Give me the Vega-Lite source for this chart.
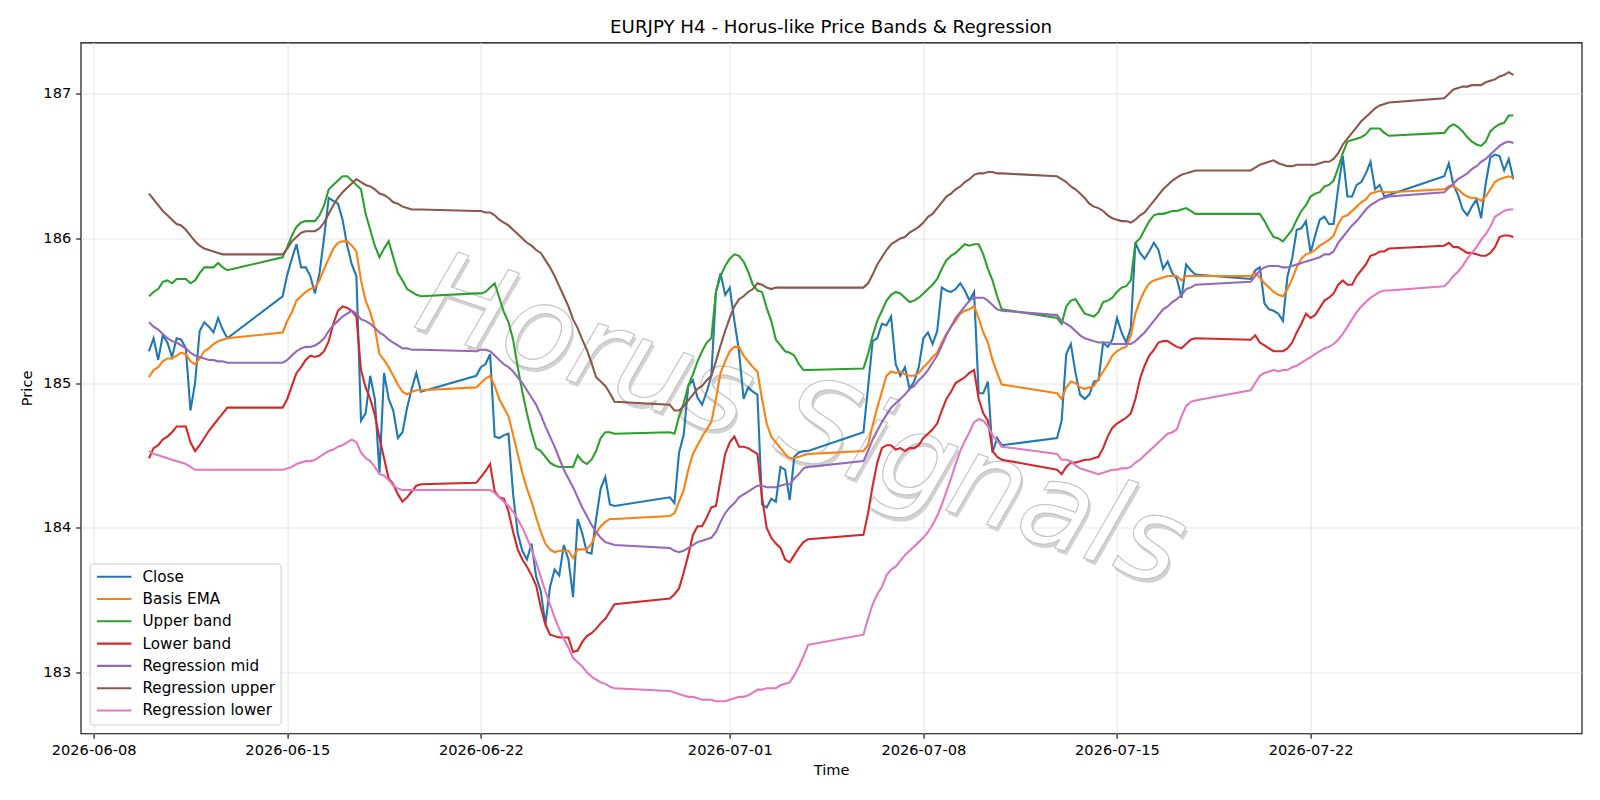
{
"$schema":"https://vega.github.io/schema/vega-lite/v6.json",
"width":1501,"height":690.8,
"autosize":{"type":"none"},
"padding":{"left":80.6,"top":42.5,"right":18.4,"bottom":66.7},
"background":"white",
"title":{"text":"EURJPY H4 - Horus-like Price Bands & Regression","font":"DejaVu Sans","fontSize":18.2,"fontWeight":"normal","color":"black","offset":5.8,"anchor":"middle"},
"config":{"view":{"stroke":"black","strokeWidth":1.1},"font":"DejaVu Sans"},
"data":{"values":[
{"t":"2026-06-10T00:00","c":185.22,"e":185.04,"u":185.60,"l":184.48,"m":185.42,"ru":186.31,"rl":184.53},
{"t":"2026-06-10T04:00","c":185.31,"e":185.09,"u":185.63,"l":184.55,"m":185.39,"ru":186.27,"rl":184.51},
{"t":"2026-06-10T08:00","c":185.16,"e":185.11,"u":185.65,"l":184.57,"m":185.37,"ru":186.23,"rl":184.50},
{"t":"2026-06-10T12:00","c":185.33,"e":185.15,"u":185.70,"l":184.61,"m":185.34,"ru":186.19,"rl":184.49},
{"t":"2026-06-10T16:00","c":185.28,"e":185.17,"u":185.71,"l":184.63,"m":185.31,"ru":186.16,"rl":184.48},
{"t":"2026-06-10T20:00","c":185.18,"e":185.17,"u":185.69,"l":184.66,"m":185.29,"ru":186.13,"rl":184.47},
{"t":"2026-06-11T00:00","c":185.31,"e":185.19,"u":185.72,"l":184.70,"m":185.28,"ru":186.10,"rl":184.46},
{"t":"2026-06-11T04:00","c":185.30,"e":185.21,"u":185.72,"l":184.70,"m":185.26,"ru":186.09,"rl":184.45},
{"t":"2026-06-11T08:00","c":185.24,"e":185.20,"u":185.72,"l":184.70,"m":185.24,"ru":186.06,"rl":184.44},
{"t":"2026-06-11T12:00","c":184.81,"e":185.15,"u":185.69,"l":184.59,"m":185.21,"ru":186.02,"rl":184.42},
{"t":"2026-06-11T16:00","c":185.00,"e":185.13,"u":185.71,"l":184.53,"m":185.19,"ru":185.98,"rl":184.40},
{"t":"2026-06-11T20:00","c":185.36,"e":185.17,"u":185.76,"l":184.57,"m":185.18,"ru":185.95,"rl":184.40},
{"t":"2026-06-12T00:00","c":185.42,"e":185.22,"u":185.80,"l":184.62,"m":185.17,"ru":185.93,"rl":184.40},
{"t":"2026-06-12T04:00","c":185.39,"e":185.24,"u":185.80,"l":184.67,"m":185.16,"ru":185.92,"rl":184.40},
{"t":"2026-06-12T08:00","c":185.35,"e":185.27,"u":185.80,"l":184.71,"m":185.16,"ru":185.91,"rl":184.40},
{"t":"2026-06-12T12:00","c":185.45,"e":185.29,"u":185.83,"l":184.75,"m":185.15,"ru":185.90,"rl":184.40},
{"t":"2026-06-12T16:00","c":185.37,"e":185.30,"u":185.80,"l":184.79,"m":185.15,"ru":185.89,"rl":184.40},
{"t":"2026-06-12T20:00","c":185.31,"e":185.31,"u":185.78,"l":184.83,"m":185.14,"ru":185.89,"rl":184.40},
{"t":"2026-06-14T20:00","c":185.60,"e":185.35,"u":185.87,"l":184.83,"m":185.14,"ru":185.89,"rl":184.40},
{"t":"2026-06-15T00:00","c":185.75,"e":185.43,"u":185.94,"l":184.89,"m":185.16,"ru":185.93,"rl":184.41},
{"t":"2026-06-15T04:00","c":185.86,"e":185.49,"u":186.02,"l":184.98,"m":185.19,"ru":185.98,"rl":184.42},
{"t":"2026-06-15T08:00","c":185.96,"e":185.57,"u":186.08,"l":185.07,"m":185.22,"ru":186.01,"rl":184.44},
{"t":"2026-06-15T12:00","c":185.80,"e":185.60,"u":186.11,"l":185.11,"m":185.24,"ru":186.04,"rl":184.45},
{"t":"2026-06-15T16:00","c":185.80,"e":185.63,"u":186.12,"l":185.16,"m":185.25,"ru":186.05,"rl":184.46},
{"t":"2026-06-15T20:00","c":185.74,"e":185.65,"u":186.12,"l":185.19,"m":185.25,"ru":186.05,"rl":184.46},
{"t":"2026-06-16T00:00","c":185.62,"e":185.66,"u":186.12,"l":185.18,"m":185.26,"ru":186.05,"rl":184.47},
{"t":"2026-06-16T04:00","c":185.76,"e":185.71,"u":186.16,"l":185.19,"m":185.28,"ru":186.07,"rl":184.49},
{"t":"2026-06-16T08:00","c":186.01,"e":185.79,"u":186.23,"l":185.22,"m":185.31,"ru":186.11,"rl":184.51},
{"t":"2026-06-16T12:00","c":186.28,"e":185.86,"u":186.34,"l":185.29,"m":185.36,"ru":186.17,"rl":184.53},
{"t":"2026-06-16T16:00","c":186.26,"e":185.93,"u":186.37,"l":185.41,"m":185.40,"ru":186.23,"rl":184.54},
{"t":"2026-06-16T20:00","c":186.24,"e":185.97,"u":186.40,"l":185.50,"m":185.43,"ru":186.28,"rl":184.56},
{"t":"2026-06-17T00:00","c":186.13,"e":185.98,"u":186.43,"l":185.53,"m":185.46,"ru":186.32,"rl":184.57},
{"t":"2026-06-17T04:00","c":185.95,"e":185.98,"u":186.43,"l":185.52,"m":185.48,"ru":186.35,"rl":184.59},
{"t":"2026-06-17T08:00","c":185.82,"e":185.95,"u":186.40,"l":185.50,"m":185.50,"ru":186.38,"rl":184.61},
{"t":"2026-06-17T12:00","c":185.74,"e":185.91,"u":186.37,"l":185.46,"m":185.48,"ru":186.41,"rl":184.59},
{"t":"2026-06-17T16:00","c":184.74,"e":185.71,"u":186.34,"l":185.09,"m":185.44,"ru":186.39,"rl":184.52},
{"t":"2026-06-17T20:00","c":184.79,"e":185.57,"u":186.17,"l":184.97,"m":185.43,"ru":186.37,"rl":184.48},
{"t":"2026-06-18T00:00","c":185.05,"e":185.49,"u":186.06,"l":184.89,"m":185.41,"ru":186.36,"rl":184.46},
{"t":"2026-06-18T04:00","c":184.89,"e":185.38,"u":185.95,"l":184.78,"m":185.38,"ru":186.34,"rl":184.42},
{"t":"2026-06-18T08:00","c":184.38,"e":185.20,"u":185.87,"l":184.62,"m":185.35,"ru":186.31,"rl":184.37},
{"t":"2026-06-18T12:00","c":185.07,"e":185.16,"u":185.93,"l":184.48,"m":185.33,"ru":186.30,"rl":184.36},
{"t":"2026-06-18T16:00","c":184.89,"e":185.11,"u":185.98,"l":184.34,"m":185.30,"ru":186.28,"rl":184.33},
{"t":"2026-06-18T20:00","c":184.81,"e":185.05,"u":185.87,"l":184.30,"m":185.28,"ru":186.25,"rl":184.29},
{"t":"2026-06-19T00:00","c":184.62,"e":184.99,"u":185.76,"l":184.23,"m":185.26,"ru":186.24,"rl":184.27},
{"t":"2026-06-19T04:00","c":184.66,"e":184.94,"u":185.71,"l":184.18,"m":185.24,"ru":186.22,"rl":184.26},
{"t":"2026-06-19T08:00","c":184.83,"e":184.92,"u":185.65,"l":184.21,"m":185.24,"ru":186.21,"rl":184.26},
{"t":"2026-06-19T12:00","c":184.96,"e":184.94,"u":185.63,"l":184.25,"m":185.23,"ru":186.20,"rl":184.26},
{"t":"2026-06-19T16:00","c":185.07,"e":184.95,"u":185.61,"l":184.29,"m":185.23,"ru":186.20,"rl":184.26},
{"t":"2026-06-19T20:00","c":184.94,"e":184.95,"u":185.60,"l":184.30,"m":185.23,"ru":186.20,"rl":184.26},
{"t":"2026-06-21T20:00","c":185.05,"e":184.97,"u":185.62,"l":184.31,"m":185.22,"ru":186.19,"rl":184.26},
{"t":"2026-06-22T00:00","c":185.11,"e":185.00,"u":185.62,"l":184.35,"m":185.23,"ru":186.19,"rl":184.26},
{"t":"2026-06-22T04:00","c":185.13,"e":185.03,"u":185.63,"l":184.39,"m":185.23,"ru":186.18,"rl":184.26},
{"t":"2026-06-22T08:00","c":185.20,"e":185.05,"u":185.66,"l":184.44,"m":185.22,"ru":186.18,"rl":184.26},
{"t":"2026-06-22T12:00","c":184.63,"e":184.98,"u":185.69,"l":184.25,"m":185.19,"ru":186.16,"rl":184.24},
{"t":"2026-06-22T16:00","c":184.62,"e":184.89,"u":185.59,"l":184.21,"m":185.16,"ru":186.13,"rl":184.21},
{"t":"2026-06-22T20:00","c":184.64,"e":184.83,"u":185.49,"l":184.20,"m":185.13,"ru":186.11,"rl":184.18},
{"t":"2026-06-23T00:00","c":184.65,"e":184.77,"u":185.42,"l":184.11,"m":185.11,"ru":186.09,"rl":184.15},
{"t":"2026-06-23T04:00","c":184.23,"e":184.64,"u":185.30,"l":183.97,"m":185.08,"ru":186.06,"rl":184.11},
{"t":"2026-06-23T08:00","c":183.96,"e":184.51,"u":185.11,"l":183.85,"m":185.04,"ru":186.03,"rl":184.06},
{"t":"2026-06-23T12:00","c":183.84,"e":184.38,"u":184.94,"l":183.78,"m":185.00,"ru":186.00,"rl":184.00},
{"t":"2026-06-23T16:00","c":183.78,"e":184.27,"u":184.79,"l":183.73,"m":184.95,"ru":185.97,"rl":183.93},
{"t":"2026-06-23T20:00","c":183.89,"e":184.18,"u":184.66,"l":183.67,"m":184.90,"ru":185.95,"rl":183.85},
{"t":"2026-06-24T00:00","c":183.66,"e":184.07,"u":184.55,"l":183.60,"m":184.85,"ru":185.92,"rl":183.76},
{"t":"2026-06-24T04:00","c":183.56,"e":183.97,"u":184.53,"l":183.45,"m":184.78,"ru":185.90,"rl":183.66},
{"t":"2026-06-24T08:00","c":183.33,"e":183.89,"u":184.49,"l":183.33,"m":184.70,"ru":185.85,"rl":183.56},
{"t":"2026-06-24T12:00","c":183.59,"e":183.85,"u":184.45,"l":183.26,"m":184.63,"ru":185.80,"rl":183.47},
{"t":"2026-06-24T16:00","c":183.71,"e":183.83,"u":184.43,"l":183.25,"m":184.56,"ru":185.74,"rl":183.38},
{"t":"2026-06-24T20:00","c":183.67,"e":183.84,"u":184.42,"l":183.24,"m":184.48,"ru":185.67,"rl":183.30},
{"t":"2026-06-25T00:00","c":183.88,"e":183.84,"u":184.42,"l":183.24,"m":184.40,"ru":185.60,"rl":183.23},
{"t":"2026-06-25T04:00","c":183.78,"e":183.84,"u":184.42,"l":183.24,"m":184.34,"ru":185.53,"rl":183.17},
{"t":"2026-06-25T08:00","c":183.52,"e":183.79,"u":184.42,"l":183.14,"m":184.28,"ru":185.44,"rl":183.10},
{"t":"2026-06-25T12:00","c":184.06,"e":183.85,"u":184.50,"l":183.15,"m":184.21,"ru":185.38,"rl":183.07},
{"t":"2026-06-25T16:00","c":183.96,"e":183.85,"u":184.46,"l":183.21,"m":184.14,"ru":185.30,"rl":183.04},
{"t":"2026-06-25T20:00","c":183.83,"e":183.85,"u":184.44,"l":183.25,"m":184.08,"ru":185.23,"rl":183.00},
{"t":"2026-06-26T00:00","c":183.82,"e":183.89,"u":184.47,"l":183.27,"m":184.02,"ru":185.14,"rl":182.97},
{"t":"2026-06-26T04:00","c":184.06,"e":183.96,"u":184.53,"l":183.30,"m":183.97,"ru":185.04,"rl":182.95},
{"t":"2026-06-26T08:00","c":184.27,"e":184.01,"u":184.62,"l":183.34,"m":183.93,"ru":185.01,"rl":182.93},
{"t":"2026-06-26T12:00","c":184.35,"e":184.04,"u":184.66,"l":183.37,"m":183.90,"ru":184.98,"rl":182.92},
{"t":"2026-06-26T16:00","c":184.16,"e":184.06,"u":184.66,"l":183.42,"m":183.89,"ru":184.93,"rl":182.90},
{"t":"2026-06-26T20:00","c":184.15,"e":184.06,"u":184.65,"l":183.47,"m":183.88,"ru":184.87,"rl":182.89},
{"t":"2026-06-28T20:00","c":184.21,"e":184.08,"u":184.66,"l":183.51,"m":183.86,"ru":184.85,"rl":182.87},
{"t":"2026-06-29T00:00","c":184.17,"e":184.10,"u":184.65,"l":183.54,"m":183.84,"ru":184.81,"rl":182.86},
{"t":"2026-06-29T04:00","c":184.52,"e":184.18,"u":184.77,"l":183.58,"m":183.83,"ru":184.81,"rl":182.85},
{"t":"2026-06-29T08:00","c":184.64,"e":184.26,"u":184.86,"l":183.69,"m":183.84,"ru":184.84,"rl":182.84},
{"t":"2026-06-29T12:00","c":184.98,"e":184.40,"u":184.98,"l":183.81,"m":183.86,"ru":184.88,"rl":182.83},
{"t":"2026-06-29T16:00","c":185.02,"e":184.51,"u":185.06,"l":183.95,"m":183.88,"ru":184.92,"rl":182.83},
{"t":"2026-06-29T20:00","c":184.90,"e":184.57,"u":185.15,"l":184.01,"m":183.90,"ru":184.96,"rl":182.82},
{"t":"2026-06-30T00:00","c":184.85,"e":184.63,"u":185.22,"l":184.01,"m":183.91,"ru":184.98,"rl":182.81},
{"t":"2026-06-30T04:00","c":184.94,"e":184.68,"u":185.28,"l":184.07,"m":183.92,"ru":185.02,"rl":182.81},
{"t":"2026-06-30T08:00","c":185.05,"e":184.73,"u":185.31,"l":184.14,"m":183.93,"ru":185.05,"rl":182.81},
{"t":"2026-06-30T12:00","c":185.63,"e":184.89,"u":185.63,"l":184.15,"m":183.97,"ru":185.15,"rl":182.80},
{"t":"2026-06-30T16:00","c":185.76,"e":185.07,"u":185.74,"l":184.33,"m":184.04,"ru":185.26,"rl":182.80},
{"t":"2026-06-30T20:00","c":185.61,"e":185.15,"u":185.81,"l":184.51,"m":184.10,"ru":185.36,"rl":182.80},
{"t":"2026-07-01T00:00","c":185.66,"e":185.22,"u":185.86,"l":184.59,"m":184.14,"ru":185.45,"rl":182.81},
{"t":"2026-07-01T04:00","c":185.43,"e":185.25,"u":185.89,"l":184.63,"m":184.17,"ru":185.53,"rl":182.82},
{"t":"2026-07-01T08:00","c":185.22,"e":185.25,"u":185.88,"l":184.56,"m":184.21,"ru":185.58,"rl":182.83},
{"t":"2026-07-01T12:00","c":184.89,"e":185.19,"u":185.84,"l":184.56,"m":184.23,"ru":185.60,"rl":182.83},
{"t":"2026-07-01T16:00","c":184.97,"e":185.15,"u":185.77,"l":184.55,"m":184.25,"ru":185.63,"rl":182.84},
{"t":"2026-07-01T20:00","c":184.94,"e":185.11,"u":185.68,"l":184.53,"m":184.27,"ru":185.65,"rl":182.86},
{"t":"2026-07-02T00:00","c":184.92,"e":185.08,"u":185.64,"l":184.51,"m":184.29,"ru":185.69,"rl":182.88},
{"t":"2026-07-02T04:00","c":184.16,"e":184.89,"u":185.63,"l":184.21,"m":184.29,"ru":185.68,"rl":182.88},
{"t":"2026-07-02T08:00","c":184.14,"e":184.72,"u":185.52,"l":184.00,"m":184.28,"ru":185.66,"rl":182.89},
{"t":"2026-07-02T12:00","c":184.20,"e":184.63,"u":185.43,"l":183.93,"m":184.28,"ru":185.65,"rl":182.89},
{"t":"2026-07-02T16:00","c":184.18,"e":184.59,"u":185.30,"l":183.89,"m":184.28,"ru":185.66,"rl":182.89},
{"t":"2026-07-02T20:00","c":184.42,"e":184.55,"u":185.26,"l":183.86,"m":184.29,"ru":185.66,"rl":182.91},
{"t":"2026-07-03T00:00","c":184.40,"e":184.51,"u":185.22,"l":183.78,"m":184.30,"ru":185.66,"rl":182.92},
{"t":"2026-07-03T04:00","c":184.19,"e":184.48,"u":185.21,"l":183.76,"m":184.30,"ru":185.66,"rl":182.93},
{"t":"2026-07-03T08:00","c":184.49,"e":184.48,"u":185.19,"l":183.81,"m":184.34,"ru":185.66,"rl":182.98},
{"t":"2026-07-03T12:00","c":184.52,"e":184.49,"u":185.13,"l":183.86,"m":184.37,"ru":185.66,"rl":183.04},
{"t":"2026-07-03T16:00","c":184.53,"e":184.50,"u":185.09,"l":183.90,"m":184.41,"ru":185.66,"rl":183.11},
{"t":"2026-07-03T20:00","c":184.53,"e":184.51,"u":185.09,"l":183.92,"m":184.42,"ru":185.66,"rl":183.19},
{"t":"2026-07-05T20:00","c":184.66,"e":184.53,"u":185.10,"l":183.95,"m":184.46,"ru":185.66,"rl":183.26},
{"t":"2026-07-06T00:00","c":184.97,"e":184.57,"u":185.20,"l":184.10,"m":184.53,"ru":185.69,"rl":183.37},
{"t":"2026-07-06T04:00","c":185.29,"e":184.71,"u":185.33,"l":184.29,"m":184.61,"ru":185.75,"rl":183.47},
{"t":"2026-07-06T08:00","c":185.31,"e":184.83,"u":185.43,"l":184.45,"m":184.67,"ru":185.82,"rl":183.54},
{"t":"2026-07-06T12:00","c":185.41,"e":184.94,"u":185.50,"l":184.55,"m":184.73,"ru":185.87,"rl":183.59},
{"t":"2026-07-06T16:00","c":185.40,"e":185.05,"u":185.57,"l":184.57,"m":184.78,"ru":185.92,"rl":183.67},
{"t":"2026-07-06T20:00","c":185.46,"e":185.08,"u":185.61,"l":184.57,"m":184.83,"ru":185.96,"rl":183.71},
{"t":"2026-07-07T00:00","c":185.13,"e":185.07,"u":185.63,"l":184.54,"m":184.86,"ru":185.98,"rl":183.73},
{"t":"2026-07-07T04:00","c":185.05,"e":185.08,"u":185.62,"l":184.55,"m":184.89,"ru":186.00,"rl":183.77},
{"t":"2026-07-07T08:00","c":185.11,"e":185.06,"u":185.59,"l":184.53,"m":184.92,"ru":186.01,"rl":183.81},
{"t":"2026-07-07T12:00","c":184.96,"e":185.05,"u":185.56,"l":184.55,"m":184.96,"ru":186.04,"rl":183.84},
{"t":"2026-07-07T16:00","c":185.01,"e":185.05,"u":185.57,"l":184.55,"m":184.98,"ru":186.06,"rl":183.87},
{"t":"2026-07-07T20:00","c":185.11,"e":185.07,"u":185.59,"l":184.57,"m":185.02,"ru":186.08,"rl":183.90},
{"t":"2026-07-08T00:00","c":185.31,"e":185.11,"u":185.62,"l":184.62,"m":185.05,"ru":186.11,"rl":183.93},
{"t":"2026-07-08T04:00","c":185.35,"e":185.14,"u":185.65,"l":184.65,"m":185.09,"ru":186.15,"rl":183.97},
{"t":"2026-07-08T08:00","c":185.27,"e":185.18,"u":185.68,"l":184.68,"m":185.14,"ru":186.17,"rl":184.02},
{"t":"2026-07-08T12:00","c":185.36,"e":185.21,"u":185.72,"l":184.72,"m":185.19,"ru":186.21,"rl":184.08},
{"t":"2026-07-08T16:00","c":185.66,"e":185.28,"u":185.79,"l":184.81,"m":185.26,"ru":186.25,"rl":184.16},
{"t":"2026-07-08T20:00","c":185.64,"e":185.34,"u":185.85,"l":184.89,"m":185.33,"ru":186.29,"rl":184.25},
{"t":"2026-07-09T00:00","c":185.63,"e":185.39,"u":185.88,"l":184.94,"m":185.39,"ru":186.31,"rl":184.34},
{"t":"2026-07-09T04:00","c":185.65,"e":185.43,"u":185.90,"l":185.00,"m":185.45,"ru":186.34,"rl":184.44},
{"t":"2026-07-09T08:00","c":185.69,"e":185.48,"u":185.93,"l":185.02,"m":185.49,"ru":186.36,"rl":184.53},
{"t":"2026-07-09T12:00","c":185.64,"e":185.50,"u":185.96,"l":185.04,"m":185.53,"ru":186.39,"rl":184.60},
{"t":"2026-07-09T16:00","c":185.57,"e":185.51,"u":185.95,"l":185.07,"m":185.57,"ru":186.41,"rl":184.66},
{"t":"2026-07-09T20:00","c":185.63,"e":185.53,"u":185.96,"l":185.09,"m":185.59,"ru":186.44,"rl":184.73},
{"t":"2026-07-10T00:00","c":184.93,"e":185.45,"u":185.96,"l":184.89,"m":185.59,"ru":186.45,"rl":184.75},
{"t":"2026-07-10T04:00","c":184.93,"e":185.35,"u":185.89,"l":184.79,"m":185.59,"ru":186.45,"rl":184.74},
{"t":"2026-07-10T08:00","c":185.01,"e":185.28,"u":185.79,"l":184.74,"m":185.57,"ru":186.46,"rl":184.70},
{"t":"2026-07-10T12:00","c":184.52,"e":185.16,"u":185.71,"l":184.53,"m":185.54,"ru":186.46,"rl":184.64},
{"t":"2026-07-10T16:00","c":184.62,"e":185.07,"u":185.60,"l":184.49,"m":185.51,"ru":186.45,"rl":184.60},
{"t":"2026-07-10T20:00","c":184.57,"e":184.99,"u":185.51,"l":184.47,"m":185.50,"ru":186.45,"rl":184.56},
{"t":"2026-07-12T20:00","c":184.62,"e":184.93,"u":185.45,"l":184.40,"m":185.47,"ru":186.43,"rl":184.51},
{"t":"2026-07-13T00:00","c":184.74,"e":184.89,"u":185.41,"l":184.37,"m":185.43,"ru":186.41,"rl":184.47},
{"t":"2026-07-13T04:00","c":185.20,"e":184.97,"u":185.53,"l":184.42,"m":185.41,"ru":186.39,"rl":184.47},
{"t":"2026-07-13T08:00","c":185.27,"e":185.01,"u":185.57,"l":184.45,"m":185.39,"ru":186.36,"rl":184.46},
{"t":"2026-07-13T12:00","c":185.07,"e":185.00,"u":185.58,"l":184.45,"m":185.36,"ru":186.34,"rl":184.43},
{"t":"2026-07-13T16:00","c":184.92,"e":184.97,"u":185.53,"l":184.46,"m":185.33,"ru":186.31,"rl":184.41},
{"t":"2026-07-13T20:00","c":184.89,"e":184.96,"u":185.48,"l":184.47,"m":185.31,"ru":186.28,"rl":184.40},
{"t":"2026-07-14T00:00","c":184.92,"e":184.97,"u":185.47,"l":184.47,"m":185.30,"ru":186.24,"rl":184.39},
{"t":"2026-07-14T04:00","c":185.01,"e":184.98,"u":185.46,"l":184.48,"m":185.29,"ru":186.22,"rl":184.38},
{"t":"2026-07-14T08:00","c":185.02,"e":185.03,"u":185.49,"l":184.49,"m":185.28,"ru":186.21,"rl":184.37},
{"t":"2026-07-14T12:00","c":185.28,"e":185.08,"u":185.56,"l":184.55,"m":185.28,"ru":186.19,"rl":184.38},
{"t":"2026-07-14T16:00","c":185.25,"e":185.13,"u":185.57,"l":184.63,"m":185.28,"ru":186.16,"rl":184.39},
{"t":"2026-07-14T20:00","c":185.30,"e":185.19,"u":185.59,"l":184.69,"m":185.27,"ru":186.14,"rl":184.40},
{"t":"2026-07-15T00:00","c":185.45,"e":185.22,"u":185.63,"l":184.72,"m":185.27,"ru":186.13,"rl":184.40},
{"t":"2026-07-15T04:00","c":185.35,"e":185.24,"u":185.66,"l":184.74,"m":185.27,"ru":186.12,"rl":184.41},
{"t":"2026-07-15T08:00","c":185.28,"e":185.25,"u":185.67,"l":184.76,"m":185.27,"ru":186.12,"rl":184.41},
{"t":"2026-07-15T12:00","c":185.38,"e":185.33,"u":185.71,"l":184.79,"m":185.27,"ru":186.11,"rl":184.42},
{"t":"2026-07-15T16:00","c":185.97,"e":185.48,"u":185.97,"l":184.89,"m":185.29,"ru":186.13,"rl":184.45},
{"t":"2026-07-15T20:00","c":185.90,"e":185.57,"u":186.00,"l":185.03,"m":185.32,"ru":186.16,"rl":184.47},
{"t":"2026-07-16T00:00","c":185.86,"e":185.64,"u":186.06,"l":185.12,"m":185.35,"ru":186.18,"rl":184.50},
{"t":"2026-07-16T04:00","c":185.91,"e":185.69,"u":186.12,"l":185.19,"m":185.39,"ru":186.22,"rl":184.53},
{"t":"2026-07-16T08:00","c":185.97,"e":185.71,"u":186.16,"l":185.23,"m":185.43,"ru":186.26,"rl":184.56},
{"t":"2026-07-16T12:00","c":185.92,"e":185.72,"u":186.17,"l":185.28,"m":185.47,"ru":186.30,"rl":184.59},
{"t":"2026-07-16T16:00","c":185.79,"e":185.73,"u":186.17,"l":185.29,"m":185.51,"ru":186.34,"rl":184.62},
{"t":"2026-07-16T20:00","c":185.84,"e":185.74,"u":186.18,"l":185.29,"m":185.53,"ru":186.37,"rl":184.65},
{"t":"2026-07-17T00:00","c":185.76,"e":185.74,"u":186.19,"l":185.27,"m":185.56,"ru":186.40,"rl":184.66},
{"t":"2026-07-17T04:00","c":185.72,"e":185.74,"u":186.19,"l":185.25,"m":185.58,"ru":186.42,"rl":184.68},
{"t":"2026-07-17T08:00","c":185.59,"e":185.71,"u":186.20,"l":185.24,"m":185.61,"ru":186.44,"rl":184.77},
{"t":"2026-07-17T12:00","c":185.82,"e":185.74,"u":186.21,"l":185.27,"m":185.65,"ru":186.45,"rl":184.84},
{"t":"2026-07-17T16:00","c":185.78,"e":185.74,"u":186.19,"l":185.30,"m":185.66,"ru":186.46,"rl":184.87},
{"t":"2026-07-17T20:00","c":185.75,"e":185.74,"u":186.17,"l":185.31,"m":185.68,"ru":186.47,"rl":184.88},
{"t":"2026-07-19T20:00","c":185.72,"e":185.74,"u":186.17,"l":185.30,"m":185.70,"ru":186.47,"rl":184.95},
{"t":"2026-07-20T00:00","c":185.78,"e":185.76,"u":186.17,"l":185.33,"m":185.74,"ru":186.49,"rl":185.00},
{"t":"2026-07-20T04:00","c":185.80,"e":185.73,"u":186.17,"l":185.28,"m":185.78,"ru":186.51,"rl":185.05},
{"t":"2026-07-20T08:00","c":185.55,"e":185.69,"u":186.12,"l":185.26,"m":185.80,"ru":186.52,"rl":185.07},
{"t":"2026-07-20T12:00","c":185.51,"e":185.66,"u":186.06,"l":185.24,"m":185.81,"ru":186.53,"rl":185.08},
{"t":"2026-07-20T16:00","c":185.50,"e":185.63,"u":186.01,"l":185.22,"m":185.81,"ru":186.54,"rl":185.09},
{"t":"2026-07-20T20:00","c":185.48,"e":185.61,"u":186.00,"l":185.22,"m":185.81,"ru":186.52,"rl":185.08},
{"t":"2026-07-21T00:00","c":185.43,"e":185.60,"u":185.98,"l":185.22,"m":185.80,"ru":186.51,"rl":185.09},
{"t":"2026-07-21T04:00","c":185.74,"e":185.65,"u":186.02,"l":185.24,"m":185.80,"ru":186.50,"rl":185.09},
{"t":"2026-07-21T08:00","c":185.86,"e":185.72,"u":186.06,"l":185.28,"m":185.81,"ru":186.50,"rl":185.11},
{"t":"2026-07-21T12:00","c":186.06,"e":185.80,"u":186.13,"l":185.35,"m":185.82,"ru":186.51,"rl":185.12},
{"t":"2026-07-21T16:00","c":186.07,"e":185.86,"u":186.19,"l":185.41,"m":185.83,"ru":186.51,"rl":185.14},
{"t":"2026-07-21T20:00","c":186.12,"e":185.89,"u":186.23,"l":185.48,"m":185.84,"ru":186.51,"rl":185.16},
{"t":"2026-07-22T00:00","c":185.90,"e":185.90,"u":186.29,"l":185.45,"m":185.85,"ru":186.51,"rl":185.18},
{"t":"2026-07-22T04:00","c":186.02,"e":185.92,"u":186.31,"l":185.47,"m":185.86,"ru":186.51,"rl":185.20},
{"t":"2026-07-22T08:00","c":186.13,"e":185.95,"u":186.32,"l":185.52,"m":185.87,"ru":186.52,"rl":185.22},
{"t":"2026-07-22T12:00","c":186.15,"e":185.97,"u":186.36,"l":185.57,"m":185.89,"ru":186.53,"rl":185.24},
{"t":"2026-07-22T16:00","c":186.10,"e":185.99,"u":186.37,"l":185.59,"m":185.89,"ru":186.53,"rl":185.25},
{"t":"2026-07-22T20:00","c":186.10,"e":186.02,"u":186.40,"l":185.62,"m":185.91,"ru":186.55,"rl":185.27},
{"t":"2026-07-23T00:00","c":186.35,"e":186.10,"u":186.49,"l":185.68,"m":185.97,"ru":186.59,"rl":185.30},
{"t":"2026-07-23T04:00","c":186.57,"e":186.15,"u":186.59,"l":185.71,"m":186.01,"ru":186.65,"rl":185.34},
{"t":"2026-07-23T08:00","c":186.29,"e":186.16,"u":186.67,"l":185.68,"m":186.05,"ru":186.69,"rl":185.39},
{"t":"2026-07-23T12:00","c":186.29,"e":186.19,"u":186.68,"l":185.68,"m":186.09,"ru":186.73,"rl":185.44},
{"t":"2026-07-23T16:00","c":186.37,"e":186.22,"u":186.69,"l":185.74,"m":186.12,"ru":186.77,"rl":185.49},
{"t":"2026-07-23T20:00","c":186.39,"e":186.25,"u":186.70,"l":185.78,"m":186.16,"ru":186.81,"rl":185.53},
{"t":"2026-07-24T00:00","c":186.45,"e":186.27,"u":186.72,"l":185.82,"m":186.20,"ru":186.84,"rl":185.56},
{"t":"2026-07-24T04:00","c":186.53,"e":186.31,"u":186.76,"l":185.88,"m":186.23,"ru":186.87,"rl":185.59},
{"t":"2026-07-24T08:00","c":186.34,"e":186.32,"u":186.76,"l":185.89,"m":186.25,"ru":186.90,"rl":185.61},
{"t":"2026-07-24T12:00","c":186.37,"e":186.33,"u":186.76,"l":185.91,"m":186.27,"ru":186.92,"rl":185.63},
{"t":"2026-07-24T16:00","c":186.29,"e":186.32,"u":186.73,"l":185.91,"m":186.28,"ru":186.93,"rl":185.64},
{"t":"2026-07-24T20:00","c":186.30,"e":186.32,"u":186.71,"l":185.93,"m":186.29,"ru":186.94,"rl":185.64},
{"t":"2026-07-26T20:00","c":186.43,"e":186.34,"u":186.73,"l":185.95,"m":186.32,"ru":186.97,"rl":185.67},
{"t":"2026-07-27T00:00","c":186.52,"e":186.36,"u":186.77,"l":185.97,"m":186.35,"ru":187.00,"rl":185.70},
{"t":"2026-07-27T04:00","c":186.37,"e":186.36,"u":186.79,"l":185.94,"m":186.38,"ru":187.03,"rl":185.74},
{"t":"2026-07-27T08:00","c":186.30,"e":186.34,"u":186.77,"l":185.94,"m":186.41,"ru":187.04,"rl":185.77},
{"t":"2026-07-27T12:00","c":186.20,"e":186.31,"u":186.74,"l":185.92,"m":186.43,"ru":187.05,"rl":185.81},
{"t":"2026-07-27T16:00","c":186.16,"e":186.29,"u":186.70,"l":185.90,"m":186.45,"ru":187.05,"rl":185.86},
{"t":"2026-07-27T20:00","c":186.22,"e":186.28,"u":186.67,"l":185.90,"m":186.48,"ru":187.06,"rl":185.90},
{"t":"2026-07-28T00:00","c":186.27,"e":186.28,"u":186.65,"l":185.89,"m":186.50,"ru":187.06,"rl":185.94},
{"t":"2026-07-28T04:00","c":186.14,"e":186.26,"u":186.64,"l":185.88,"m":186.53,"ru":187.06,"rl":185.99},
{"t":"2026-07-28T08:00","c":186.38,"e":186.29,"u":186.67,"l":185.88,"m":186.55,"ru":187.08,"rl":186.03},
{"t":"2026-07-28T12:00","c":186.56,"e":186.34,"u":186.74,"l":185.90,"m":186.58,"ru":187.09,"rl":186.08},
{"t":"2026-07-28T16:00","c":186.58,"e":186.39,"u":186.77,"l":185.94,"m":186.61,"ru":187.10,"rl":186.15},
{"t":"2026-07-28T20:00","c":186.57,"e":186.41,"u":186.79,"l":186.01,"m":186.64,"ru":187.12,"rl":186.17},
{"t":"2026-07-29T00:00","c":186.47,"e":186.42,"u":186.80,"l":186.02,"m":186.66,"ru":187.13,"rl":186.19},
{"t":"2026-07-29T04:00","c":186.55,"e":186.43,"u":186.85,"l":186.02,"m":186.67,"ru":187.15,"rl":186.20},
{"t":"2026-07-29T08:00","c":186.41,"e":186.42,"u":186.85,"l":186.01,"m":186.66,"ru":187.13,"rl":186.20}
]},
"layer":[
{"data":{"values":[{}]},
 "mark":{"type":"text","text":"Horus Signals","font":"DejaVu Sans","fontStyle":"italic","fontSize":117,"angle":19,"align":"center","baseline":"middle","fill":"#d2d2d2","strokeWidth":0,"dx":3,"dy":3},
 "encoding":{"x":{"datum":{"year":2026,"month":7,"date":3,"hours":14},"type":"temporal"},"y":{"datum":184.72,"type":"quantitative"}}},
{"data":{"values":[{}]},
 "mark":{"type":"text","text":"Horus Signals","font":"DejaVu Sans","fontStyle":"italic","fontSize":117,"angle":19,"align":"center","baseline":"middle","fill":"white","stroke":"#c2c2c2","strokeWidth":1.1},
 "encoding":{"x":{"datum":{"year":2026,"month":7,"date":3,"hours":14},"type":"temporal"},"y":{"datum":184.72,"type":"quantitative"}}},
{"transform":[{"fold":["c","e","u","l","m","ru","rl"],"as":["series","price"]}],
 "mark":{"type":"line","strokeWidth":2.08,"clip":true},
 "encoding":{
  "x":{"field":"t","type":"temporal",
   "scale":{"domain":[{"year":2026,"month":6,"date":7,"hours":12,"minutes":40},{"year":2026,"month":7,"date":31,"hours":19,"minutes":12}]},
   "axis":{"title":"Time","values":[{"year":2026,"month":6,"date":8},{"year":2026,"month":6,"date":15},{"year":2026,"month":6,"date":22},{"year":2026,"month":7,"date":1},{"year":2026,"month":7,"date":8},{"year":2026,"month":7,"date":15},{"year":2026,"month":7,"date":22}],
    "format":"%Y-%m-%d","labelFont":"DejaVu Sans","labelFontSize":14.6,"labelColor":"black","labelPadding":4.5,"labelOverlap":false,"labelFlush":false,
    "tickSize":4.9,"tickWidth":1.1,"tickColor":"black","domain":false,
    "grid":true,"gridColor":"#e6e6e6","gridWidth":1.1,
    "titleFont":"DejaVu Sans","titleFontSize":14.6,"titleFontWeight":"normal","titleColor":"black","titlePadding":5}},
  "y":{"field":"price","type":"quantitative",
   "scale":{"domain":[182.578,187.355],"zero":false,"nice":false},
   "axis":{"title":"Price","values":[183,184,185,186,187],"format":"d","labelFont":"DejaVu Sans","labelFontSize":14.6,"labelColor":"black","labelPadding":5,
    "tickSize":4.9,"tickWidth":1.1,"tickColor":"black","domain":false,
    "grid":true,"gridColor":"#e6e6e6","gridWidth":1.1,
    "titleFont":"DejaVu Sans","titleFontSize":14.6,"titleFontWeight":"normal","titleColor":"black","titlePadding":8}},
  "color":{"field":"series","type":"nominal",
   "scale":{"domain":["c","e","u","l","m","ru","rl"],"range":["#1f77b4","#ff7f0e","#2ca02c","#d62728","#9467bd","#8c564b","#e377c2"]},
   "legend":{"title":null,"orient":"bottom-left","offset":8.5,"padding":5.6,"rowPadding":6.3,
    "labelExpr":"datum.label=='c'?'Close':datum.label=='e'?'Basis EMA':datum.label=='u'?'Upper band':datum.label=='l'?'Lower band':datum.label=='m'?'Regression mid':datum.label=='ru'?'Regression upper':'Regression lower'",
    "labelFont":"DejaVu Sans","labelFontSize":15.2,"labelColor":"black","labelOffset":20.7,"labelLimit":0,
    "symbolType":"M-3,0H3","symbolSize":131.5,"symbolOffset":11.4,"symbolStrokeWidth":2.08,
    "fillColor":"rgba(255,255,255,0.8)","strokeColor":"#cccccc","cornerRadius":3}}
 }}
]
}
